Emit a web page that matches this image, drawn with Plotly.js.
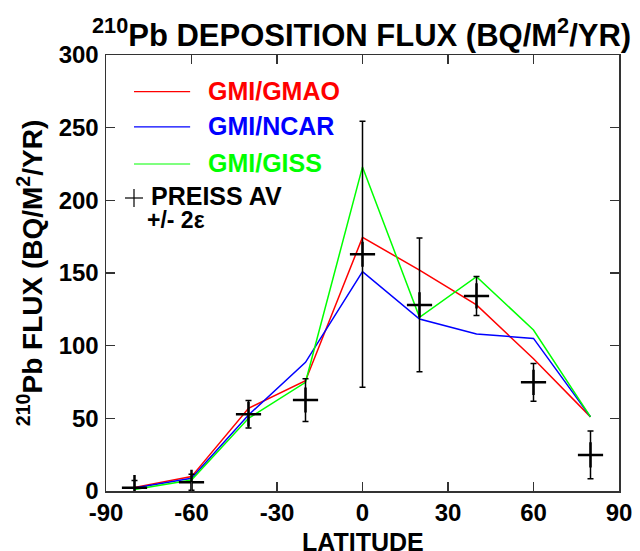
<!DOCTYPE html>
<html>
<head>
<meta charset="utf-8">
<script src="https://cdn.plot.ly/plotly-3.0.1.min.js"></script>
<style>html,body{margin:0;padding:0;background:#fff}#chart{width:640px;height:551px}</style>
</head>
<body>
<div id="chart"></div>
<script>
const latitude = [-80, -60, -40, -20, 0, 20, 40, 60, 80];
const gmiGmao = [2.5, 9.9, 56.9, 75.9, 174.5, 152, 128, 91, 51];
const gmiNcar = [2, 8.7, 52.3, 88.5, 151, 118.3, 108, 105, 51];
const gmiGiss = [1, 7.6, 50, 74.8, 223, 119.5, 147.5, 110.8, 51];
const preissAv = [2.3, 6, 52.8, 62.6, 162.9, 128, 134.2, 74.8, 24.8];
const preissErr = [5, 5.5, 9.4, 14.7, 91.5, 46, 13.4, 13, 16.4];
const xTicks = [-90, -60, -30, 0, 30, 60, 90];
const yTicks = [0, 50, 100, 150, 200, 250, 300];

const FONT = 'Liberation Sans, Arial, Helvetica, sans-serif';
const GREEN = '#00ff00';

const traces = [
  {x: latitude, y: gmiGmao, mode: 'lines', line: {color: '#ff0000', width: 1.5}, name: 'GMI/GMAO'},
  {x: latitude, y: gmiNcar, mode: 'lines', line: {color: '#0000ff', width: 1.5}, name: 'GMI/NCAR'},
  {x: latitude, y: gmiGiss, mode: 'lines', line: {color: GREEN, width: 1.5}, name: 'GMI/GISS'},
  {x: latitude, y: preissAv, mode: 'markers', name: 'PREISS AV',
   marker: {symbol: 'cross-thin', size: 18, color: '#000', line: {color: '#000', width: 2.5}},
   error_y: {type: 'data', array: preissErr, visible: true, color: '#000', thickness: 1.5, width: 3}}
];

function legLine(yPaper, color) {
  return {type: 'line', xref: 'paper', yref: 'paper', x0: 0.0546, x1: 0.164, y0: yPaper, y1: yPaper,
          line: {color: color, width: 1.2}};
}
function legText(txt, yPaper, color, x, size) {
  return {text: txt, xref: 'paper', yref: 'paper', x: x, y: yPaper, xanchor: 'left', yanchor: 'middle',
          showarrow: false, font: {family: FONT, size: size, color: color, weight: 'bold'}};
}

const layout = {
  width: 640, height: 551,
  margin: {l: 106, r: 21, t: 55, b: 60},
  paper_bgcolor: '#fff', plot_bgcolor: '#fff',
  showlegend: false,
  font: {family: FONT, color: '#000'},
  title: {text: '<b><sup>210</sup>Pb DEPOSITION FLUX (BQ/M<sup>2</sup>/YR)</b>',
          font: {family: FONT, size: 31, color: '#000'}, x: 0.565, xanchor: 'center', y: 0.9365, yanchor: 'middle'},
  xaxis: {range: [-90, 90], tickvals: xTicks, ticktext: xTicks.map(String), ticks: 'inside', ticklen: 9,
          tickwidth: 1.5, tickcolor: '#333', showline: true, linecolor: '#333', linewidth: 1.5, mirror: 'ticks',
          showgrid: false, zeroline: false,
          tickfont: {family: FONT, size: 24, color: '#000', weight: 'bold'}},
  yaxis: {range: [0, 300], tickvals: yTicks, ticktext: yTicks.map(String), ticks: 'inside', ticklen: 9,
          tickwidth: 1.5, tickcolor: '#333', showline: true, linecolor: '#333', linewidth: 1.5, mirror: 'ticks',
          showgrid: false, zeroline: false, ticklabelstandoff: 1,
          tickfont: {family: FONT, size: 24, color: '#000', weight: 'bold'},
          title: {text: '<b><sup>210</sup>Pb FLUX (BQ/M<sup>2</sup>/YR)</b>', font: {family: FONT, size: 28, color: '#000'}, standoff: 8}},
  shapes: [
    legLine(0.916, '#ff0000'), legLine(0.835, '#0000ff'), legLine(0.75, GREEN),
    {type: 'line', xref: 'paper', yref: 'paper', x0: (125-106)/513, x1: (143-106)/513, y0: (491-198)/436, y1: (491-198)/436, line: {color: '#000', width: 1.2}},
    {type: 'line', xref: 'paper', yref: 'paper', x0: (134-106)/513, x1: (134-106)/513, y0: (491-189)/436, y1: (491-207)/436, line: {color: '#000', width: 1.2}}
  ],
  annotations: [
    legText('GMI/GMAO', 0.918, '#ff0000', 0.195, 25),
    legText('GMI/NCAR', 0.837, '#0000ff', 0.195, 25),
    legText('GMI/GISS', 0.752, GREEN, 0.195, 25),
    legText('PREISS AV', 0.676, '#000', (149-106)/513, 25),
    legText('+/- 2ε', 0.622, '#000', (145-106)/513, 23),
    {text: '<b>LATITUDE</b>', xref: 'paper', yref: 'paper', x: 0.5, y: -0.117, xanchor: 'center', yanchor: 'middle',
     showarrow: false, font: {family: FONT, size: 25, color: '#000'}}
  ]
};

Plotly.newPlot('chart', traces, layout, {displayModeBar: false, staticPlot: true});
</script>
</body>
</html>
